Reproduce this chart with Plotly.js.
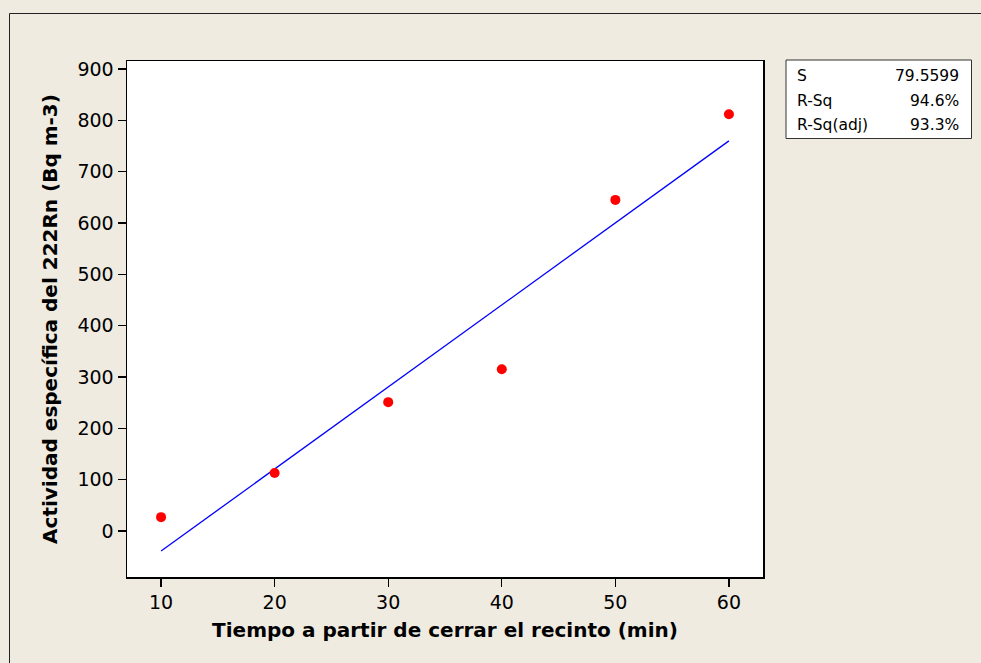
<!DOCTYPE html>
<html>
<head>
<meta charset="utf-8">
<script src="https://cdn.plot.ly/plotly-3.0.1.min.js"></script>
<style>
html,body{margin:0;padding:0;background:#EFEBE1;}
#chart{width:981px;height:663px;}
</style>
</head>
<body>
<div id="chart"></div>
<script>
// Data
var tiempo = [10, 20, 30, 40, 50, 60];
var actividad = [27, 113, 251, 315, 645, 812];
var fitX = [10, 60];
var fitY = [-39, 760];
var statLabels = ['S', 'R-Sq', 'R-Sq(adj)'];
var statValues = ['79.5599', '94.6%', '93.3%'];
var xTicks = [10, 20, 30, 40, 50, 60];
var yTicks = [0, 100, 200, 300, 400, 500, 600, 700, 800, 900];

var FONT = 'DejaVu Sans, sans-serif';
var L = 127, R = 763, T = 61, B = 577, W = 981, H = 663;
function px(x){ return (x - L) / (R - L); }
function py(y){ return (B - y) / (B - T); }

var traces = [
  {
    x: fitX, y: fitY, type: 'scatter', mode: 'lines',
    line: {color: '#0000FF', width: 1.3},
    hoverinfo: 'skip', showlegend: false
  },
  {
    x: tiempo, y: actividad, type: 'scatter', mode: 'markers',
    marker: {color: '#FF0000', size: 10},
    showlegend: false
  }
];

var statY = [76, 100.5, 125];
var annotations = [];
for (var i = 0; i < statLabels.length; i++) {
  annotations.push({
    xref: 'paper', yref: 'paper', x: px(795), y: py(statY[i]),
    xanchor: 'left', yanchor: 'middle', showarrow: false,
    text: statLabels[i], font: {family: FONT, size: 15.5, color: '#000'}
  });
  annotations.push({
    xref: 'paper', yref: 'paper', x: px(961), y: py(statY[i]),
    xanchor: 'right', yanchor: 'middle', showarrow: false,
    text: statValues[i], font: {family: FONT, size: 15.5, color: '#000'}
  });
}

var shapes = [
  // outer frame (top and left edges visible)
  {type: 'line', xref: 'paper', yref: 'paper', x0: px(9.5), x1: px(9.5), y0: py(13.5), y1: py(700),
   line: {color: '#222', width: 1}},
  {type: 'line', xref: 'paper', yref: 'paper', x0: px(9.5), x1: px(1000), y0: py(13.5), y1: py(13.5),
   line: {color: '#222', width: 1}},
  // stats box
  {type: 'rect', xref: 'paper', yref: 'paper', x0: px(786), x1: px(971.5), y0: py(60), y1: py(138.5),
   fillcolor: '#FFFFFF', line: {color: '#333', width: 1}}
];

var layout = {
  width: W, height: H,
  margin: {l: L, r: W - R, t: T, b: H - B, pad: 0},
  paper_bgcolor: '#EFEBE1',
  plot_bgcolor: '#FFFFFF',
  font: {family: FONT, color: '#000'},
  showlegend: false,
  xaxis: {
    range: [7, 63],
    tickvals: xTicks, ticktext: xTicks.map(String),
    ticks: 'outside', ticklen: 8, tickwidth: 1.3, tickcolor: '#000',
    showline: true, linecolor: '#000', linewidth: 1.5, mirror: true,
    showgrid: false, zeroline: false,
    tickfont: {family: FONT, size: 19, color: '#000'},
    title: {text: 'Tiempo a partir de cerrar el recinto (min)', standoff: 10,
            font: {family: FONT, size: 20, color: '#000', weight: 'bold'}}
  },
  yaxis: {
    range: [-89.6, 915.6],
    tickvals: yTicks, ticktext: yTicks.map(String),
    ticks: 'outside', ticklen: 8, tickwidth: 1.3, tickcolor: '#000',
    showline: true, linecolor: '#000', linewidth: 1.5, mirror: true,
    showgrid: false, zeroline: false,
    tickfont: {family: FONT, size: 19, color: '#000'},
    title: {text: 'Actividad específica del 222Rn (Bq m-3)', standoff: 14,
            font: {family: FONT, size: 20, color: '#000', weight: 'bold'}}
  },
  shapes: shapes,
  annotations: annotations
};

Plotly.newPlot('chart', traces, layout, {displayModeBar: false, staticPlot: true});
</script>
</body>
</html>
